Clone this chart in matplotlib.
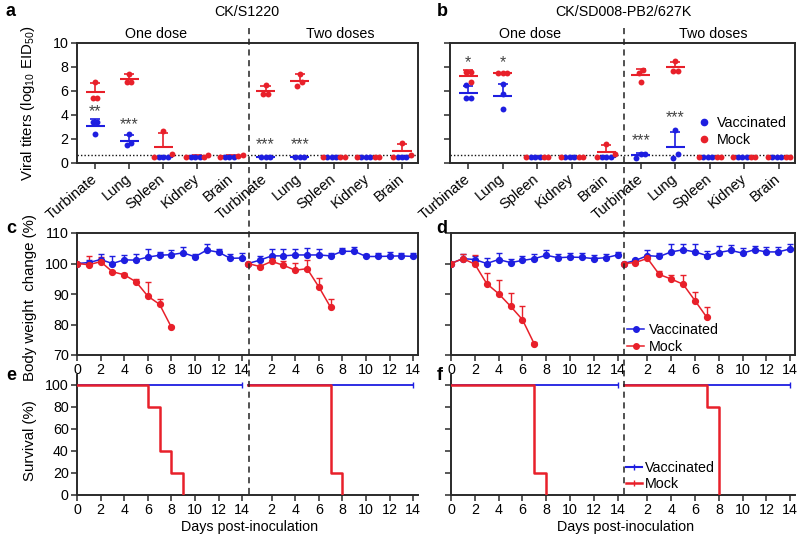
import numpy as np
import matplotlib
matplotlib.use('Agg')
import matplotlib.pyplot as plt
from matplotlib.lines import Line2D
import matplotlib.transforms as mtransforms

plt.rcParams['font.family'] = ['Liberation Sans', 'DejaVu Sans']
plt.rcParams['mathtext.fontset'] = 'custom'
plt.rcParams['mathtext.rm'] = 'Liberation Sans'
plt.rcParams['mathtext.it'] = 'Liberation Sans:italic'

RED = '#e8202a'
BLUE = '#1e1ee0'
SPINE = '#2a2a2a'

# ---------------- data ----------------
tissues = ['Turbinate', 'Lung', 'Spleen', 'Kidney', 'Brain']
strains = ['CK/S1220', 'CK/SD008-PB2/627K']
detect_limit = 0.67

# viral titers (log10 EID50), 3 birds per group, order = tissues
a_vacc_one = [[3.45, 3.45, 2.4], [2.4, 1.5, 1.7], [0.5, 0.5, 0.5], [0.5, 0.5, 0.5], [0.5, 0.5, 0.5]]
a_mock_one = [[6.75, 5.45, 5.45], [7.45, 6.75, 6.75], [2.7, 0.72, 0.5], [0.65, 0.5, 0.5], [0.7, 0.55, 0.5]]
a_vacc_two = [[0.5, 0.5, 0.5], [0.5, 0.5, 0.5], [0.5, 0.5, 0.5], [0.5, 0.5, 0.5], [0.5, 0.5, 0.5]]
a_mock_two = [[6.47, 5.72, 5.72], [7.45, 6.72, 6.45], [0.5, 0.5, 0.5], [0.5, 0.5, 0.5], [1.7, 0.7, 0.5]]
a_stars = ['**', '***', '', '', '', '***', '***', '', '', '']
a_star_y = [4.3, 3.2, 0, 0, 0, 1.55, 1.55, 0, 0, 0]

b_vacc_one = [[6.5, 5.45, 5.45], [6.55, 5.72, 4.5], [0.5, 0.5, 0.5], [0.5, 0.5, 0.5], [0.5, 0.5, 0.5]]
b_mock_one = [[7.55, 7.55, 6.72], [7.53, 7.53, 7.53], [0.5, 0.5, 0.5], [0.5, 0.5, 0.5], [1.55, 0.75, 0.5]]
b_vacc_two = [[0.75, 0.75, 0.45], [2.75, 0.75, 0.45], [0.5, 0.5, 0.5], [0.5, 0.5, 0.5], [0.5, 0.5, 0.5]]
b_mock_two = [[7.72, 7.53, 6.72], [8.5, 7.7, 7.7], [0.5, 0.5, 0.5], [0.5, 0.5, 0.5], [0.5, 0.5, 0.5]]
b_stars = ['*', '*', '', '', '', '***', '***', '', '', '']
b_star_y = [8.35, 8.35, 0, 0, 0, 1.85, 3.75, 0, 0, 0]

# body weight change (%), days 0-14
days = list(range(15))
c_vacc_one = [100, 100.3, 101.3, 100.0, 101.2, 101.1, 102.1, 102.7, 102.9, 103.5, 102.2, 104.4, 103.7, 101.7, 101.8]
c_vacc_one_sd = [0, 1.0, 1.8, 2.5, 1.6, 1.9, 2.6, 1.0, 1.4, 1.8, 1.0, 2.1, 1.1, 1.5, 1.6]
c_mock_one = [100, 99.6, 100.6, 97.3, 96.3, 94.0, 89.3, 86.6, 79.1]
c_mock_one_sd = [0, 2.7, 1.5, 0.4, 0.6, 0.8, 4.7, 1.7, 0.3]
c_vacc_two = [100, 101.1, 102.5, 102.5, 102.8, 102.8, 102.8, 102.5, 104.0, 104.0, 102.3, 102.3, 102.4, 102.5, 102.3]
c_vacc_two_sd = [0, 1.5, 2.1, 2.1, 2.0, 2.2, 2.1, 0.8, 1.2, 1.3, 0.9, 1.1, 1.3, 1.0, 1.2]
c_mock_two = [100, 99.0, 100.7, 99.4, 97.8, 98.3, 92.3, 85.6]
c_mock_two_sd = [0, 0.6, 1.2, 1.4, 2.4, 2.9, 3.0, 2.6]

d_vacc_one = [100, 101.6, 101.3, 100.0, 101.3, 100.3, 101.0, 101.6, 102.7, 101.9, 102.1, 102.0, 101.6, 101.9, 102.8]
d_vacc_one_sd = [0, 1.5, 1.3, 1.7, 2.2, 1.3, 1.3, 1.5, 1.8, 1.3, 1.2, 1.3, 1.1, 1.1, 1.0]
d_mock_one = [100, 101.6, 99.8, 93.4, 90.1, 86.0, 81.6, 73.6]
d_mock_one_sd = [0, 1.6, 3.0, 3.6, 4.5, 4.2, 4.6, 0.8]
d_vacc_two = [100, 101.0, 102.6, 102.3, 103.8, 104.5, 103.8, 102.6, 103.6, 104.3, 103.4, 104.5, 103.8, 103.8, 104.8]
d_vacc_two_sd = [0, 0.5, 1.9, 1.3, 2.5, 2.0, 2.6, 1.4, 2.2, 1.8, 1.8, 1.3, 1.7, 1.7, 1.5]
d_mock_two = [100, 100.3, 101.7, 96.4, 94.9, 93.2, 87.8, 82.3]
d_mock_two_sd = [0, 0.8, 0.5, 1.2, 1.4, 3.0, 2.9, 3.4]

# survival (%)
surv_vacc_days = [0, 14]
surv_vacc = [100, 100]
e_mock_one_days = [0, 6, 7, 8, 9]
e_mock_one = [100, 80, 40, 20, 0]
e_mock_two_days = [0, 7, 8]
e_mock_two = [100, 20, 0]
f_mock_one_days = [0, 7, 8]
f_mock_one = [100, 20, 0]
f_mock_two_days = [0, 7, 8]
f_mock_two = [100, 80, 0]

day_ticks = [0, 2, 4, 6, 8, 10, 12, 14]
OFF = 14.5  # second block starts here on the shared day axis

# ---------------- figure ----------------
W, H = 800, 540
fig = plt.figure(figsize=(8, 5.4), dpi=100)


def rect(x0, y0, x1, y1):
    return [x0 / W, 1 - y1 / H, (x1 - x0) / W, (y1 - y0) / H]


def style(ax, box=True):
    for s in ['left', 'bottom', 'top', 'right']:
        ax.spines[s].set_color(SPINE)
        ax.spines[s].set_linewidth(1.4)
    if not box:
        ax.spines['top'].set_visible(False)
        ax.spines['right'].set_visible(False)
    ax.tick_params(direction='out', length=4, width=1.1, color=SPINE,
                   labelsize=10.3, pad=2)


def swarm_offsets(vacc, mock, step=0.13, tol=0.3):
    pts = [('v', v) for v in vacc] + [('m', v) for v in mock]
    order = sorted(range(len(pts)), key=lambda k: pts[k][1])
    clusters = []
    for k in order:
        if clusters and abs(pts[k][1] - pts[clusters[-1][-1]][1]) <= tol:
            clusters[-1].append(k)
        else:
            clusters.append([k])
    offs = [0.0] * len(pts)
    for cl in clusters:
        reds = [k for k in cl if pts[k][0] == 'm']
        blues = [k for k in cl if pts[k][0] == 'v']
        h = len(reds) // 2
        seq = reds[:h] + blues + reds[h:]
        n = len(seq)
        for j, k in enumerate(seq):
            offs[k] = (j - (n - 1) / 2) * step
    return offs[:len(vacc)], offs[len(vacc):]


def titer_panel(ax, vacc_one, mock_one, vacc_two, mock_two, stars, star_y, labels=True):
    vacc = vacc_one + vacc_two
    mock = mock_one + mock_two
    for i in range(10):
        ov, om = swarm_offsets(vacc[i], mock[i])
        for vals, offs, col in [(vacc[i], ov, BLUE), (mock[i], om, RED)]:
            vals = np.array(vals)
            m = vals.mean()
            sd = vals.std(ddof=1)
            ax.scatter(i + np.array(offs), vals, s=18, color=col, zorder=3, linewidths=0)
            ax.hlines(m, i - 0.28, i + 0.28, color=col, lw=1.5, zorder=2)
            if sd > 0.01:
                ax.vlines(i, m, m + sd, color=col, lw=1.2, zorder=2)
                ax.hlines(m + sd, i - 0.15, i + 0.15, color=col, lw=1.2, zorder=2)
        if stars[i]:
            ax.text(i, star_y[i], stars[i], ha='center', va='center', fontsize=11.5, color='#444444')
    ax.axhline(detect_limit, ls=(0, (1, 1.5)), color='#111111', lw=1.0, zorder=1)
    ax.set_xlim(-0.53, 9.47)
    ax.set_ylim(0, 10)
    ax.set_yticks([0, 2, 4, 6, 8, 10])
    ax.set_xticks(range(10))
    ax.set_xticklabels(tissues * 2, rotation=40, ha='right', va='center',
                       rotation_mode='anchor', fontsize=10.5)
    ax.tick_params(axis='x', pad=6)
    if not labels:
        ax.set_yticklabels([])


def weight_panel(ax, vo, vo_sd, mo, mo_sd, vt, vt_sd, mt, mt_sd, labels=True):
    for off, series in [(0, [(vo, vo_sd, BLUE), (mo, mo_sd, RED)]),
                        (OFF, [(vt, vt_sd, BLUE), (mt, mt_sd, RED)])]:
        for y, sd, col in series:
            x = off + np.array(days[:len(y)])
            ax.errorbar(x, y, yerr=[np.zeros(len(sd)), sd], fmt='o-', color=col,
                        ms=4.2, lw=1.1, elinewidth=1.0, capsize=2.3, capthick=1.0, zorder=3)
    ax.set_xlim(0, 28.9)
    ax.set_ylim(70, 110)
    ax.set_yticks([70, 80, 90, 100, 110])
    ticks = day_ticks + [OFF + d for d in day_ticks[1:]]
    ax.set_xticks(ticks)
    ax.set_xticklabels([str(d) for d in day_ticks] + [str(d) for d in day_ticks[1:]])
    if not labels:
        ax.set_yticklabels([])


def surv_panel(ax, mo_days, mo, mt_days, mt, labels=True):
    for off, md, m in [(0, mo_days, mo), (OFF, mt_days, mt)]:
        ax.plot(off + np.array(surv_vacc_days), surv_vacc, color=BLUE, lw=1.3,
                drawstyle='steps-post', marker='|', markevery=[1], ms=4, zorder=2)
        ax.plot(off + np.array(md), m, color=RED, lw=1.8, drawstyle='steps-post', zorder=3)
    ax.set_xlim(0, 28.9)
    ax.set_ylim(0, 109)
    ax.set_yticks([0, 20, 40, 60, 80, 100])
    ticks = day_ticks + [OFF + d for d in day_ticks[1:]]
    ax.set_xticks(ticks)
    ax.set_xticklabels([str(d) for d in day_ticks] + [str(d) for d in day_ticks[1:]])
    if not labels:
        ax.set_yticklabels([])


ax_a = fig.add_axes(rect(77, 43, 418, 163))
ax_b = fig.add_axes(rect(450, 43, 795, 163))
ax_c = fig.add_axes(rect(77, 233, 418, 355))
ax_d = fig.add_axes(rect(451, 233, 795, 355))
ax_e = fig.add_axes(rect(77, 375, 418, 495))
ax_f = fig.add_axes(rect(451, 375, 795, 495))

for ax in [ax_a, ax_b, ax_c, ax_d]:
    style(ax, box=True)
for ax in [ax_e, ax_f]:
    style(ax, box=False)

titer_panel(ax_a, a_vacc_one, a_mock_one, a_vacc_two, a_mock_two, a_stars, a_star_y)
titer_panel(ax_b, b_vacc_one, b_mock_one, b_vacc_two, b_mock_two, b_stars, b_star_y, labels=False)

weight_panel(ax_c, c_vacc_one, c_vacc_one_sd, c_mock_one, c_mock_one_sd,
             c_vacc_two, c_vacc_two_sd, c_mock_two, c_mock_two_sd)
weight_panel(ax_d, d_vacc_one, d_vacc_one_sd, d_mock_one, d_mock_one_sd,
             d_vacc_two, d_vacc_two_sd, d_mock_two, d_mock_two_sd, labels=False)
surv_panel(ax_e, e_mock_one_days, e_mock_one, e_mock_two_days, e_mock_two)
surv_panel(ax_f, f_mock_one_days, f_mock_one, f_mock_two_days, f_mock_two, labels=False)

# y labels
LABX = (37 - 77) / 341
ax_a.set_ylabel(r'Viral titers (log$_{\mathrm{10}}$ EID$_{\mathrm{50}}$)', fontsize=10.8)
ax_a.yaxis.set_label_coords(LABX, 0.5)
ax_c.set_ylabel('Body weight  change (%)', fontsize=10.8)
ax_c.yaxis.set_label_coords(LABX, 0.47)
ax_e.set_ylabel('Survival (%)', fontsize=10.8)
ax_e.yaxis.set_label_coords(LABX, 0.45)

# x labels
fig.text(250 / W, 1 - 527 / H, 'Days post-inoculation', ha='center', va='center', fontsize=10.3)
fig.text(626 / W, 1 - 527 / H, 'Days post-inoculation', ha='center', va='center', fontsize=10.3)

# titles
fig.text(247 / W, 1 - 12 / H, strains[0], ha='center', va='center', fontsize=10.3)
fig.text(623 / W, 1 - 12 / H, strains[1], ha='center', va='center', fontsize=10.3)
for x, t in [(156, 'One dose'), (340, 'Two doses'), (530, 'One dose'), (713, 'Two doses')]:
    fig.text(x / W, 1 - 34 / H, t, ha='center', va='center', fontsize=10.3)

# panel letters
for x, y, t in [(11, 12, 'a'), (442, 12, 'b'), (11, 228, 'c'), (442, 228, 'd'),
                (11, 376, 'e'), (440, 375, 'f')]:
    fig.text(x / W, 1 - y / H, t, ha='center', va='center', fontsize=13, fontweight='bold')

# dashed dividers
for ax in [ax_a, ax_b]:
    tr = mtransforms.blended_transform_factory(ax.transData, fig.transFigure)
    fig.add_artist(Line2D([4.5, 4.5], [1 - 494 / H, 1 - 25 / H], transform=tr,
                          ls=(0, (4, 3)), color='#222222', lw=1.1))

# legends
h_dot = [Line2D([], [], ls='', marker='o', color=BLUE, ms=4.5),
         Line2D([], [], ls='', marker='o', color=RED, ms=4.5)]
ax_b.legend(h_dot, ['Vaccinated', 'Mock'], loc='center left',
            bbox_to_anchor=(697 / W, 1 - 131.5 / H), bbox_transform=fig.transFigure,
            frameon=False, borderpad=0, borderaxespad=0, handlelength=1.0,
            handletextpad=0.4, labelspacing=0.15, fontsize=10.3)
h_line = [Line2D([], [], marker='o', color=BLUE, ms=4, lw=1.1),
          Line2D([], [], marker='o', color=RED, ms=4, lw=1.1)]
ax_d.legend(h_line, ['Vaccinated', 'Mock'], loc='center left',
            bbox_to_anchor=(627 / W, 1 - 338.5 / H), bbox_transform=fig.transFigure,
            frameon=False, borderpad=0, borderaxespad=0, handlelength=1.2,
            handletextpad=0.3, labelspacing=0.15, fontsize=10.3)
h_surv = [Line2D([], [], marker='|', color=BLUE, ms=4, lw=1.5),
          Line2D([], [], marker='|', color=RED, ms=4, lw=1.8)]
ax_f.legend(h_surv, ['Vaccinated', 'Mock'], loc='center left',
            bbox_to_anchor=(626 / W, 1 - 476 / H), bbox_transform=fig.transFigure,
            frameon=False, borderpad=0, borderaxespad=0, handlelength=1.15,
            handletextpad=0.2, labelspacing=0.15, fontsize=10.3)

fig.savefig('out.png', dpi=100)
